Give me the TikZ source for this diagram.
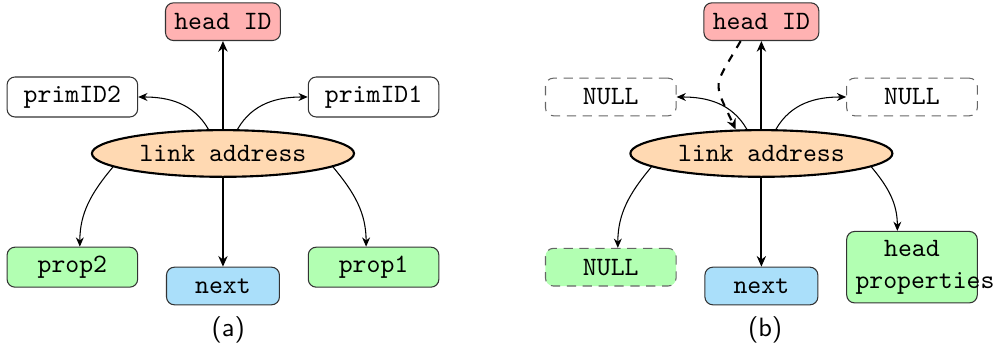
\documentclass[tikz,border=0pt]{standalone}
\usepackage{tikz}
\usetikzlibrary{arrows.meta}
\usetikzlibrary{shapes.geometric}

\definecolor{nextblue}{RGB}{170,223,250}

\begin{document}
\begin{tikzpicture}[
        box/.style={draw=black!80, rounded corners=3pt, font=\ttfamily, minimum width=1.5cm, minimum height=0.5cm},
        fieldbox/.style={box, text width=1.5cm, align=center},
        nullbox/.style={fieldbox, draw=black!60, dash pattern=on 3.5pt off 2.5pt},
        linkell/.style={ellipse, draw, thick, fill=orange!30, font=\ttfamily, inner sep=1pt, minimum width=3.48cm, minimum height=0.62cm},
        mainarr/.style={thick, -{Stealth[length=4pt,width=3.5pt]}},
        sidearr/.style={-{Stealth[length=3.5pt,width=3pt]}},
        caption/.style={font=\sffamily}
    ]
        \useasboundingbox (-2.961,-2.570) rectangle (10.292,2.038);

        % (a)
        \node[linkell] (linkA) at (0,0) {link address};
        \node[box, fill=red!30] (headA) at (0,1.75) {head ID};
        \node[fieldbox] (primA2) at (-2,0.75) {primID2};
        \node[fieldbox] (primA1) at (2,0.75) {primID1};
        \node[fieldbox, fill=green!30] (propA2) at (-2,-1.51) {prop2};
        \node[box, fill=nextblue] (nextA) at (0,-1.76) {next};
        \node[fieldbox, fill=green!30] (propA1) at (2,-1.51) {prop1};
        \node[caption] (capA) at (0.07,-2.34) {(a)};

        \draw[mainarr] (linkA.north) -- (headA.south);
        \draw[mainarr] (linkA.south) -- (nextA.north);
        \draw[sidearr] (linkA.121) to[out=120, in=0] (primA2.east);
        \draw[sidearr] (linkA.59) to[out=60, in=180] (primA1.west);
        \draw[sidearr] (linkA.187) to[out=230, in=90] (propA2.70);
        \draw[sidearr] (linkA.-7) to[out=-50, in=90] (propA1.110);

        % (b)
        \begin{scope}[xshift=7.15cm]
        \node[linkell] (linkB) at (0,0) {link address};
        \node[box, fill=red!30] (headB) at (0,1.75) {head ID};
        \node[nullbox] (nullB2) at (-2,0.75) {NULL};
        \node[nullbox] (nullB1) at (2,0.75) {NULL};
        \node[nullbox, fill=green!30] (nullB3) at (-2,-1.51) {NULL};
        \node[box, fill=nextblue] (nextB) at (0,-1.76) {next};
        \node[fieldbox, fill=green!30] (headpropB) at (2,-1.51) {head properties};
        \node[caption] (capB) at (0.05,-2.34) {(b)};

        \draw[mainarr] (linkB.north) -- (headB.south);
        \draw[mainarr] (linkB.south) -- (nextB.north);
        \draw[sidearr] (linkB.121) to[out=120, in=0] (nullB2.east);
        \draw[sidearr] (linkB.59) to[out=60, in=180] (nullB1.west);
        \draw[sidearr] (linkB.187) to[out=230, in=90] (nullB3.70);
        \draw[sidearr] (linkB.-7) to[out=-50, in=90] (headpropB.112);
        \draw[mainarr, dashed] (headB.223) to[out=240, in=115, looseness=1.6] (linkB.137);
        \end{scope}
    \end{tikzpicture}
\end{document}
